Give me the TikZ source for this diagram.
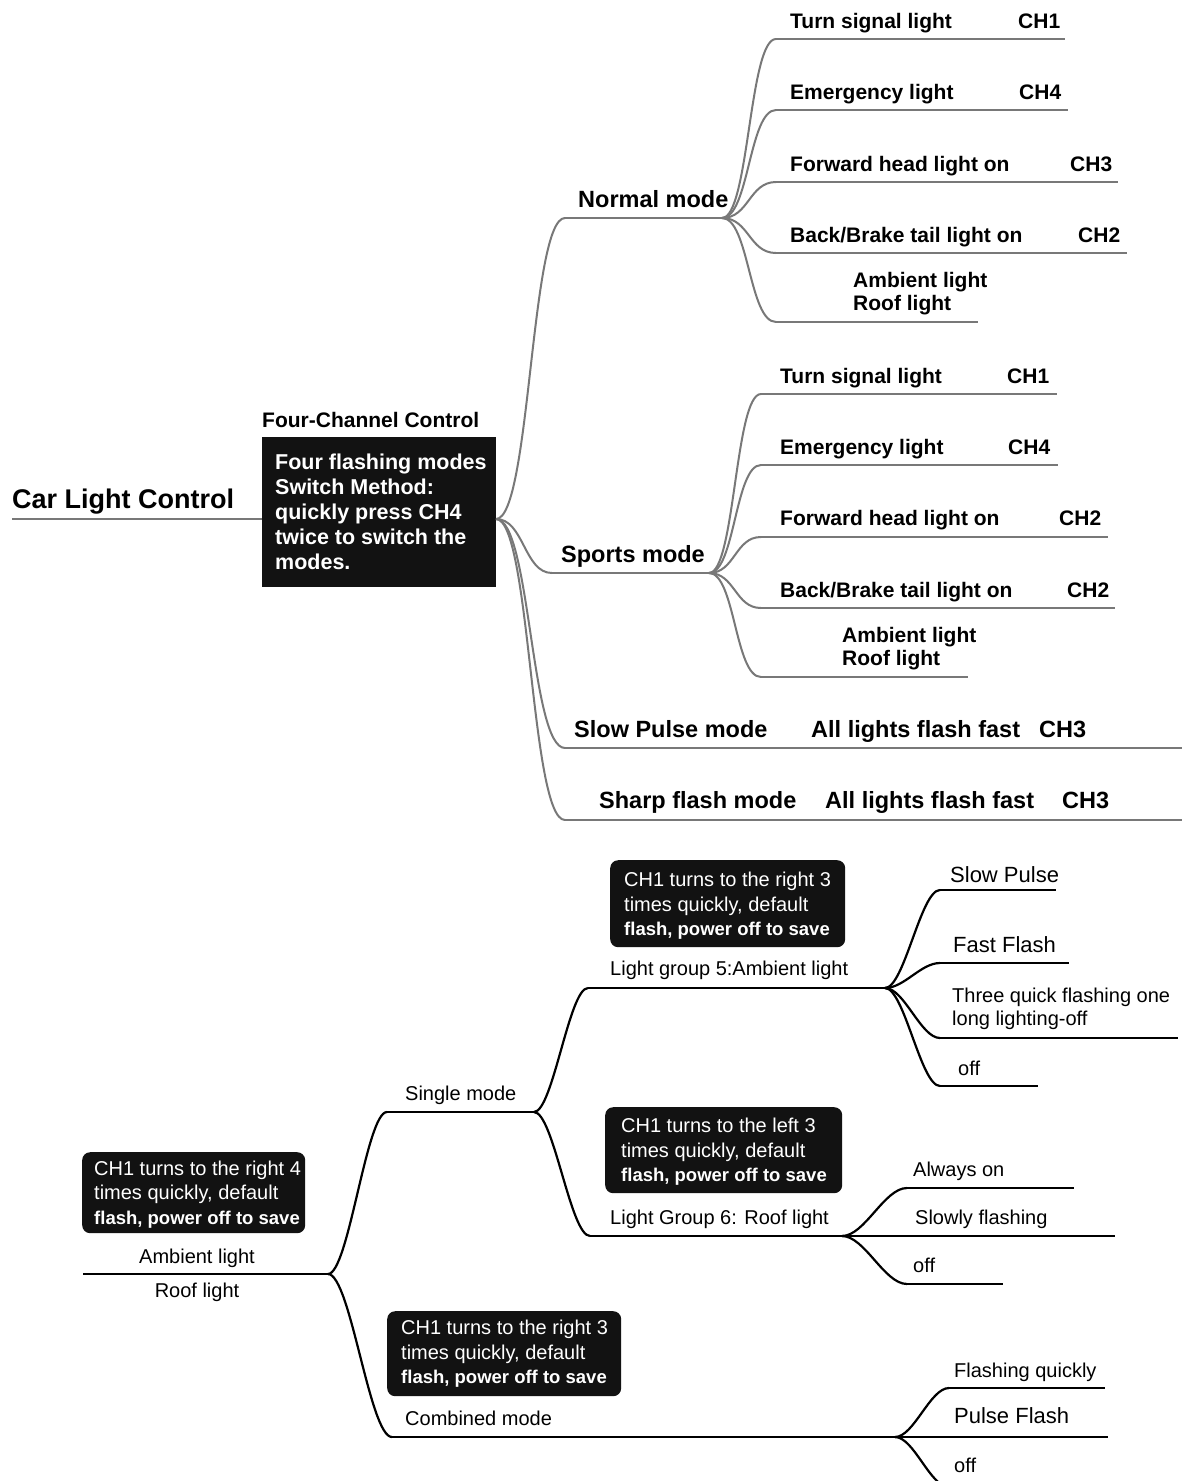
\documentclass[tikz,border=0pt]{standalone}
\usepackage{fontspec}
\setmainfont{Liberation Sans}
\usetikzlibrary{calc}
\definecolor{tgray}{RGB}{120,120,120}
\definecolor{boxblack}{RGB}{18,18,18}
\newcommand\conn[4]{\draw[#1] let \p1=(#3), \p2=(#4), \n1={#2*(\x2-\x1)} in (#3) .. controls ([xshift=\n1]#3) and ([xshift=-\n1]#4) .. (#4);}
\tikzset{
  tline/.style={draw=tgray, line width=2pt},
  bline/.style={draw=black, line width=2.2pt},
  tlbl/.style={inner sep=0, anchor=base west, font=\fontsize{21}{25}\selectfont\bfseries},
  tmode/.style={inner sep=0, anchor=base west, font=\fontsize{23.5}{28}\selectfont\bfseries},
  blbl/.style={inner sep=0, anchor=base west, font=\fontsize{20}{23}\selectfont},
  bbig/.style={inner sep=0, anchor=base west, font=\fontsize{22}{26}\selectfont},
  sqbox/.style={fill=boxblack, draw=none, inner sep=0, anchor=north west},
  rdbox/.style={fill=boxblack, draw=none, inner sep=0, anchor=north west, rounded corners=8pt},
  boxtxt/.style={inner sep=0, anchor=north west, align=left, text=white, font=\fontsize{20}{24.5}\selectfont},
}
\newcommand\lastline[1]{{\fontsize{18.5}{24.5}\selectfont\bfseries #1}}
\begin{document}
\begin{tikzpicture}[x=1pt,y=-1pt]
\useasboundingbox (0,0) rectangle (1182,1481);
\clip (0,0) rectangle (1182,1481);
\fill[white] (0,0) rectangle (1182,1481);

% ---------------- top mind map ----------------
\coordinate (rootS) at (12,519);
\coordinate (rootE) at (262,519);
\coordinate (hub) at (496,519);
\node[inner sep=0, anchor=base west, font=\fontsize{27}{32}\selectfont\bfseries] (root) at (12,508) {Car Light Control};
\draw[tline, line width=2.5pt] (rootS) -- (rootE);
\node[tlbl] (fcc) at (262,427) {Four-Channel Control};
\node[sqbox, minimum width=234pt, minimum height=150pt] (fbox) at (262,437) {};
\node[inner sep=0, anchor=north west, align=left, text=white, font=\fontsize{21.5}{25}\selectfont\bfseries] (ftxt) at (275,454)
  {Four flashing modes\\Switch Method:\\quickly press CH4\\twice to switch the\\modes.};

% modes
\coordinate (nS) at (565,218); \coordinate (nE) at (722,218);
\coordinate (sS) at (552,573); \coordinate (sE) at (709,573);
\coordinate (pS) at (565,748); \coordinate (pE) at (1182,748);
\coordinate (hS) at (565,820); \coordinate (hE) at (1182,820);
\node[tmode] (nT) at (578,207) {Normal mode};
\node[tmode] (sT) at (561,562) {Sports mode};
\node[tmode] (pT) at (574,737) {Slow Pulse mode};
\node[tmode] (pA) at (811,737) {All lights flash fast};
\node[tmode] (pC) at (1039,737) {CH3};
\node[tmode] (hT) at (599,808) {Sharp flash mode};
\node[tmode] (hA) at (825,808) {All lights flash fast};
\node[tmode] (hC) at (1062,808) {CH3};
\foreach \m in {n,s,p,h}{\draw[tline] (\m S) -- (\m E);}
\conn{tline}{0.5}{hub}{nS}
\conn{tline}{0.5}{hub}{sS}
\conn{tline}{0.5}{hub}{pS}
\conn{tline}{0.5}{hub}{hS}

% normal mode children
\coordinate (n1S) at (776,39);  \coordinate (n1E) at (1065,39);
\coordinate (n2S) at (776,110); \coordinate (n2E) at (1068,110);
\coordinate (n3S) at (776,182); \coordinate (n3E) at (1118,182);
\coordinate (n4S) at (776,253); \coordinate (n4E) at (1127,253);
\coordinate (n5S) at (776,322); \coordinate (n5E) at (978,322);
\node[tlbl] (n1T) at (790,28) {Turn signal light};      \node[tlbl] (n1C) at (1018,28) {CH1};
\node[tlbl] (n2T) at (790,99) {Emergency light};        \node[tlbl] (n2C) at (1019,99) {CH4};
\node[tlbl] (n3T) at (790,171) {Forward head light on}; \node[tlbl] (n3C) at (1070,171) {CH3};
\node[tlbl] (n4T) at (790,242) {Back/Brake tail light on}; \node[tlbl] (n4C) at (1078,242) {CH2};
\node[tlbl] (n5T) at (853,287) {Ambient light};
\node[tlbl] (n5U) at (853,310) {Roof light};
\foreach \i in {1,...,5}{\draw[tline] (n\i S) -- (n\i E); \conn{tline}{0.5}{nE}{n\i S}}

% sports mode children
\coordinate (s1S) at (761,394); \coordinate (s1E) at (1057,394);
\coordinate (s2S) at (761,465); \coordinate (s2E) at (1058,465);
\coordinate (s3S) at (761,537); \coordinate (s3E) at (1108,537);
\coordinate (s4S) at (761,608); \coordinate (s4E) at (1115,608);
\coordinate (s5S) at (761,677); \coordinate (s5E) at (968,677);
\node[tlbl] (s1T) at (780,383) {Turn signal light};      \node[tlbl] (s1C) at (1007,383) {CH1};
\node[tlbl] (s2T) at (780,454) {Emergency light};        \node[tlbl] (s2C) at (1008,454) {CH4};
\node[tlbl] (s3T) at (780,525) {Forward head light on}; \node[tlbl] (s3C) at (1059,525) {CH2};
\node[tlbl] (s4T) at (780,597) {Back/Brake tail light on}; \node[tlbl] (s4C) at (1067,597) {CH2};
\node[tlbl] (s5T) at (842,642) {Ambient light};
\node[tlbl] (s5U) at (842,665) {Roof light};
\foreach \i in {1,...,5}{\draw[tline] (s\i S) -- (s\i E); \conn{tline}{0.5}{sE}{s\i S}}

% ---------------- bottom mind map ----------------
\coordinate (brS) at (83,1274); \coordinate (brE) at (328,1274);
\draw[bline] (brS) -- (brE);
\node[rdbox, minimum width=223pt, minimum height=81pt] (b0box) at (82,1152) {};
\node[boxtxt] (b0txt) at (94,1160.5) {CH1 turns to the right 4\\times quickly, default\\\lastline{flash, power off to save}};
\node[blbl, anchor=base] (bAmb) at (197,1263) {Ambient light};
\node[blbl, anchor=base] (bRoof) at (197,1297) {Roof light};

% single / combined
\coordinate (smS) at (387,1112); \coordinate (smE) at (534,1112);
\coordinate (cmS) at (392,1437); \coordinate (cmE) at (895,1437);
\draw[bline] (smS) -- (smE);
\draw[bline] (cmS) -- (cmE);
\conn{bline}{0.35}{brE}{smS}
\conn{bline}{0.35}{brE}{cmS}
\node[blbl] (smT) at (405,1100) {Single mode};
\node[blbl] (cmT) at (405,1425) {Combined mode};
\node[rdbox, minimum width=234pt, minimum height=85pt] (cmbox) at (387,1311) {};
\node[boxtxt] (cmtxt) at (401,1320) {CH1 turns to the right 3\\times quickly, default\\\lastline{flash, power off to save}};

% light groups
\coordinate (g5S) at (588,988);  \coordinate (g5E) at (885,988);
\coordinate (g6S) at (590,1236); \coordinate (g6E) at (842,1236);
\draw[bline] (g5S) -- (g5E);
\draw[bline] (g6S) -- (g6E);
\conn{bline}{0.35}{smE}{g5S}
\conn{bline}{0.35}{smE}{g6S}
\node[blbl] (g5T) at (610,975) {Light group 5:Ambient light};
\node[blbl] (g6T) at (610,1224) {Light Group 6: Roof light};
\node[rdbox, minimum width=235pt, minimum height=87pt] (g5box) at (610,860) {};
\node[boxtxt] (g5txt) at (624,872) {CH1 turns to the right 3\\times quickly, default\\\lastline{flash, power off to save}};
\node[rdbox, minimum width=237pt, minimum height=86pt] (g6box) at (605,1107) {};
\node[boxtxt] (g6txt) at (621,1118) {CH1 turns to the left 3\\times quickly, default\\\lastline{flash, power off to save}};

% group 5 children
\coordinate (a1S) at (940,890);  \coordinate (a1E) at (1056,890);
\coordinate (a2S) at (940,963);  \coordinate (a2E) at (1069,963);
\coordinate (a3S) at (940,1038); \coordinate (a3E) at (1178,1038);
\coordinate (a4S) at (940,1086); \coordinate (a4E) at (1038,1086);
\node[bbig] (a1T) at (950,882) {Slow Pulse};
\node[bbig] (a2T) at (953,952) {Fast Flash};
\node[blbl] (a3T) at (952,1002) {Three quick flashing one};
\node[blbl] (a3U) at (952,1025) {long lighting-off};
\node[blbl] (a4T) at (958,1075) {off};
\foreach \i in {1,...,4}{\draw[bline] (a\i S) -- (a\i E); \conn{bline}{0.35}{g5E}{a\i S}}

% group 6 children
\coordinate (r1S) at (907,1188); \coordinate (r1E) at (1074,1188);
\coordinate (r2S) at (907,1236); \coordinate (r2E) at (1115,1236);
\coordinate (r3S) at (907,1284); \coordinate (r3E) at (1003,1284);
\node[blbl] (r1T) at (913,1176) {Always on};
\node[blbl] (r2T) at (915,1224) {Slowly flashing};
\node[blbl] (r3T) at (913,1272) {off};
\foreach \i in {1,2,3}{\draw[bline] (r\i S) -- (r\i E); \conn{bline}{0.35}{g6E}{r\i S}}

% combined children
\coordinate (c1S) at (949,1388); \coordinate (c1E) at (1105,1388);
\coordinate (c2S) at (949,1437); \coordinate (c2E) at (1108,1437);
\coordinate (c3S) at (949,1487); \coordinate (c3E) at (1050,1487);
\node[blbl] (c1T) at (954,1377) {Flashing quickly};
\node[bbig] (c2T) at (954,1423) {Pulse Flash};
\node[blbl] (c3T) at (954,1472) {off};
\foreach \i in {1,2,3}{\draw[bline] (c\i S) -- (c\i E); \conn{bline}{0.35}{cmE}{c\i S}}
\end{tikzpicture}
\end{document}
